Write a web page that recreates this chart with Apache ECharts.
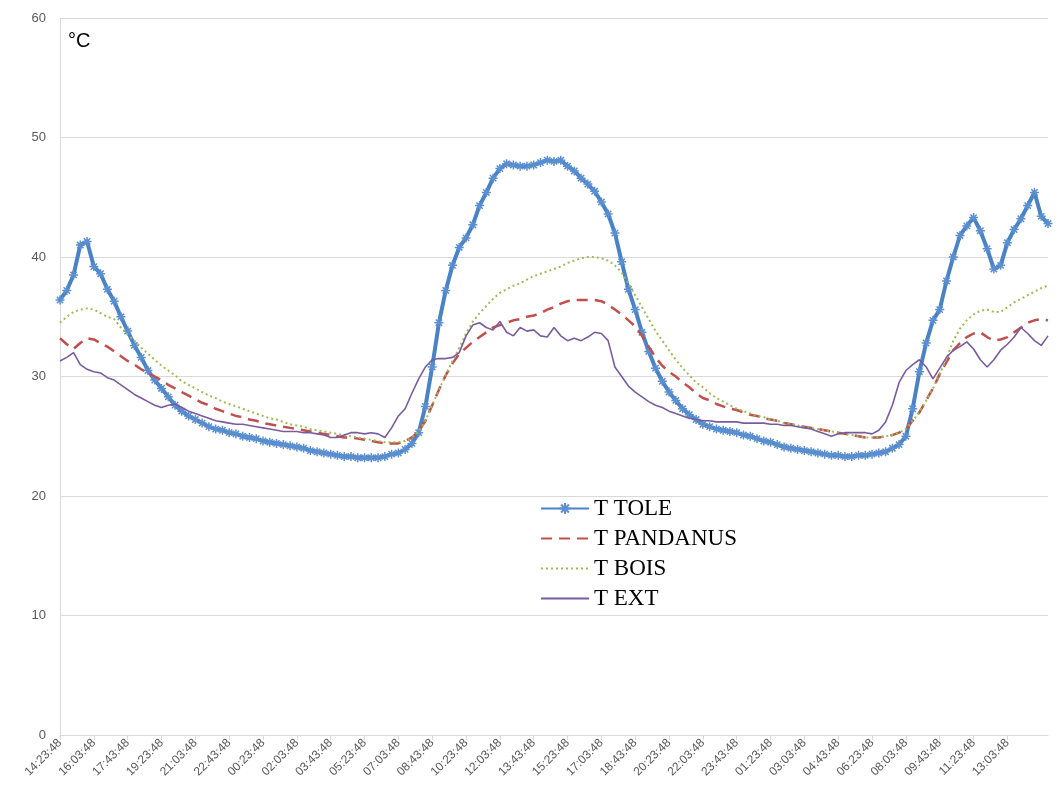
<!DOCTYPE html>
<html>
<head>
<meta charset="utf-8">
<script src="https://cdn.jsdelivr.net/npm/echarts@6/dist/echarts.min.js"></script>
<style>
html,body{margin:0;padding:0;background:#fff;}
#chart{width:1060px;height:810px;}
</style>
</head>
<body>
<div id="chart"></div>
<script>
// Time categories: every 20 minutes starting at 14:23:48
const startTime = [14, 23, 48];
const stepMinutes = 20;
const pointCount = 147;
const lastLabelIndex = 140; // 13:03:48 is the last labelled time
const categories = [];
for (let i = 0; i < pointCount; i++) {
  const total = startTime[0] * 60 + startTime[1] + i * stepMinutes;
  const h = Math.floor(total / 60) % 24;
  const m = total % 60;
  categories.push(String(h).padStart(2, '0') + ':' + String(m).padStart(2, '0') + ':' + String(startTime[2]).padStart(2, '0'));
}

const yTicks = [0, 10, 20, 30, 40, 50, 60];
const seriesNames = ['T TOLE', 'T PANDANUS', 'T BOIS', 'T EXT'];

const tTole = [
36.4,37.2,38.5,41.0,41.3,39.2,38.6,37.3,36.3,35.0,
33.8,32.6,31.6,30.5,29.7,29.0,28.3,27.6,27.1,26.7,
26.4,26.1,25.8,25.6,25.5,25.3,25.2,25.0,24.9,24.8,
24.6,24.5,24.4,24.3,24.2,24.1,24.0,23.8,23.7,23.6,
23.5,23.4,23.3,23.3,23.2,23.2,23.2,23.2,23.3,23.5,
23.6,23.9,24.4,25.3,27.5,30.8,34.5,37.2,39.3,40.8,
41.6,42.7,44.3,45.4,46.6,47.4,47.8,47.7,47.6,47.6,
47.7,47.9,48.1,48.0,48.1,47.6,47.2,46.6,46.1,45.5,
44.6,43.6,42.0,39.6,37.3,35.6,33.7,32.1,30.7,29.6,
28.7,28.0,27.3,26.8,26.4,26.0,25.8,25.6,25.5,25.4,
25.3,25.1,25.0,24.8,24.6,24.5,24.3,24.1,24.0,23.9,
23.8,23.7,23.6,23.5,23.4,23.4,23.3,23.3,23.4,23.4,
23.5,23.6,23.7,24.0,24.3,25.0,27.3,30.4,32.8,34.7,
35.6,38.0,40.0,41.8,42.6,43.3,42.2,40.7,39.0,39.3,
41.2,42.3,43.2,44.3,45.4,43.4,42.8
];

const tPandanus = [
33.2,32.7,32.3,32.8,33.2,33.1,32.8,32.5,32.1,31.7,
31.3,31.0,30.6,30.3,30.0,29.7,29.3,29.0,28.7,28.4,
28.1,27.8,27.6,27.3,27.1,26.9,26.7,26.6,26.4,26.3,
26.1,26.0,25.9,25.8,25.7,25.6,25.5,25.4,25.3,25.2,
25.1,25.0,24.9,24.9,24.8,24.7,24.6,24.5,24.4,24.4,
24.4,24.6,24.9,25.4,26.3,27.6,28.9,30.1,31.1,31.9,
32.4,32.9,33.3,33.7,34.1,34.3,34.5,34.7,34.8,35.0,
35.1,35.3,35.6,35.8,36.1,36.3,36.4,36.4,36.4,36.4,
36.3,36.0,35.6,35.2,34.7,34.2,33.4,32.5,31.6,30.9,
30.4,30.0,29.5,29.1,28.6,28.2,28.0,27.7,27.5,27.3,
27.2,27.0,26.8,26.7,26.5,26.4,26.3,26.1,26.0,25.9,
25.8,25.7,25.6,25.5,25.4,25.3,25.2,25.1,25.0,24.9,
24.9,24.9,25.0,25.1,25.3,25.6,26.3,27.0,28.0,29.0,
30.2,31.2,32.2,32.8,33.3,33.6,33.7,33.3,33.0,33.1,
33.3,33.7,34.1,34.5,34.7,34.8,34.7
];

const tBois = [
34.5,35.0,35.4,35.6,35.7,35.6,35.3,35.0,34.8,34.1,
33.5,33.0,32.4,31.9,31.4,30.9,30.5,30.1,29.6,29.3,
29.0,28.7,28.4,28.2,27.9,27.7,27.5,27.3,27.1,26.9,
26.7,26.5,26.4,26.2,26.0,25.9,25.8,25.6,25.5,25.4,
25.3,25.2,25.1,25.0,24.9,24.8,24.7,24.6,24.5,24.5,
24.5,24.6,24.9,25.4,26.3,27.6,28.9,30.1,31.3,32.4,
33.6,34.6,35.3,35.9,36.5,37.0,37.3,37.6,37.8,38.1,
38.4,38.6,38.8,39.0,39.2,39.5,39.7,39.9,40.0,40.0,
39.9,39.7,39.3,38.7,37.8,36.8,35.8,34.8,33.8,33.0,
32.2,31.4,30.7,30.1,29.5,29.1,28.6,28.2,27.9,27.6,
27.3,27.1,26.9,26.7,26.6,26.4,26.3,26.1,26.0,25.9,
25.8,25.7,25.6,25.5,25.4,25.3,25.2,25.1,25.0,24.9,
24.9,24.9,25.0,25.1,25.3,25.6,26.3,27.0,28.0,29.0,
30.2,31.5,33.0,34.0,34.7,35.2,35.5,35.6,35.4,35.4,
35.8,36.2,36.5,36.8,37.1,37.4,37.6
];

const tExt = [
31.3,31.6,32.0,31.0,30.6,30.4,30.3,29.9,29.7,29.3,
28.9,28.5,28.2,27.9,27.6,27.4,27.6,27.7,27.4,27.1,
26.9,26.7,26.5,26.3,26.2,26.1,26.0,26.0,25.9,25.8,
25.7,25.6,25.5,25.4,25.4,25.4,25.3,25.3,25.2,25.1,
24.9,24.9,25.1,25.3,25.3,25.2,25.3,25.2,24.9,25.7,
26.7,27.3,28.6,29.8,30.8,31.4,31.5,31.5,31.6,32.0,
33.4,34.3,34.5,34.1,33.9,34.6,33.7,33.4,34.1,33.8,
33.9,33.4,33.3,34.1,33.4,33.0,33.2,33.0,33.3,33.7,
33.6,33.0,30.8,30.0,29.2,28.7,28.3,27.9,27.6,27.4,
27.1,26.9,26.7,26.5,26.4,26.3,26.3,26.2,26.2,26.2,
26.2,26.1,26.1,26.1,26.1,26.0,26.0,25.9,25.9,25.8,
25.7,25.6,25.4,25.2,25.0,25.2,25.3,25.3,25.3,25.3,
25.2,25.5,26.2,27.6,29.5,30.5,31.0,31.4,30.8,29.8,
30.7,31.6,32.2,32.5,32.9,32.3,31.4,30.8,31.4,32.2,
32.7,33.3,34.1,33.6,33.0,32.6,33.4
];

const chart = echarts.init(document.getElementById('chart'), null, {renderer: 'canvas'});

const asterisk = 'path://M0,5L10,5M5,0L5,10M1.5,1.5L8.5,8.5M8.5,1.5L1.5,8.5';
const showLabel = function (idx) { return idx % 5 === 0 && idx <= lastLabelIndex; };
const hiddenMarker = {color: 'rgba(0,0,0,0)', borderWidth: 0, opacity: 0};

const option = {
  backgroundColor: '#ffffff',
  animation: false,
  grid: {left: 60, right: 12, top: 18, bottom: 75, containLabel: false},
  legend: {
    orient: 'vertical',
    left: 535,
    top: 492,
    itemWidth: 48,
    itemHeight: 14,
    itemGap: 7,
    data: [
      {name: seriesNames[0]},
      {name: seriesNames[1], itemStyle: hiddenMarker},
      {name: seriesNames[2], itemStyle: hiddenMarker},
      {name: seriesNames[3], itemStyle: hiddenMarker}
    ],
    textStyle: {fontFamily: '"Liberation Serif", "DejaVu Serif", serif', fontSize: 23, color: '#000', lineHeight: 22, padding: [0, 0, 0, 0]},
    backgroundColor: 'transparent'
  },
  graphic: [{
    type: 'text',
    left: 68,
    top: 31,
    style: {text: '°C', font: '20px "Liberation Sans", Arial, sans-serif', fill: '#000'}
  }],
  xAxis: {
    type: 'category',
    data: categories,
    boundaryGap: false,
    axisLine: {show: true, lineStyle: {color: '#d9d9d9', width: 1}},
    axisTick: {show: true, interval: showLabel, length: 5, lineStyle: {color: '#d9d9d9'}},
    axisLabel: {
      interval: showLabel,
      rotate: 45,
      color: '#595959',
      fontSize: 12,
      fontFamily: '"Liberation Sans", Arial, sans-serif',
      margin: 6
    },
    splitLine: {show: false}
  },
  yAxis: {
    type: 'value',
    min: yTicks[0],
    max: yTicks[yTicks.length - 1],
    interval: 10,
    axisLine: {show: true, lineStyle: {color: '#d9d9d9'}},
    axisTick: {show: false},
    axisLabel: {color: '#595959', fontSize: 13, fontFamily: '"Liberation Sans", Arial, sans-serif', margin: 14},
    splitLine: {show: true, lineStyle: {color: '#d9d9d9', width: 1}}
  },
  series: [
    {
      name: seriesNames[0],
      type: 'line',
      data: tTole,
      showAllSymbol: true,
      symbol: asterisk,
      symbolSize: 9,
      color: '#4a82c6',
      itemStyle: {color: '#4a82c6', borderColor: '#5a8fd0', borderWidth: 1.5},
      lineStyle: {color: '#4a82c6', width: 4},
      z: 2
    },
    {
      name: seriesNames[1],
      type: 'line',
      data: tPandanus,
      showSymbol: false,
      symbol: 'none',
      color: '#c0504d',
      lineStyle: {color: '#c0504d', width: 2.5, type: [11, 7]},
      z: 3
    },
    {
      name: seriesNames[2],
      type: 'line',
      data: tBois,
      showSymbol: false,
      symbol: 'none',
      color: '#9bbb59',
      lineStyle: {color: '#9bbb59', width: 2, type: [2, 3]},
      z: 4
    },
    {
      name: seriesNames[3],
      type: 'line',
      data: tExt,
      showSymbol: false,
      symbol: 'none',
      color: '#7a5c9e',
      lineStyle: {color: '#7a5c9e', width: 1.6},
      z: 5
    }
  ]
};
chart.setOption(option);
</script>
</body>
</html>
